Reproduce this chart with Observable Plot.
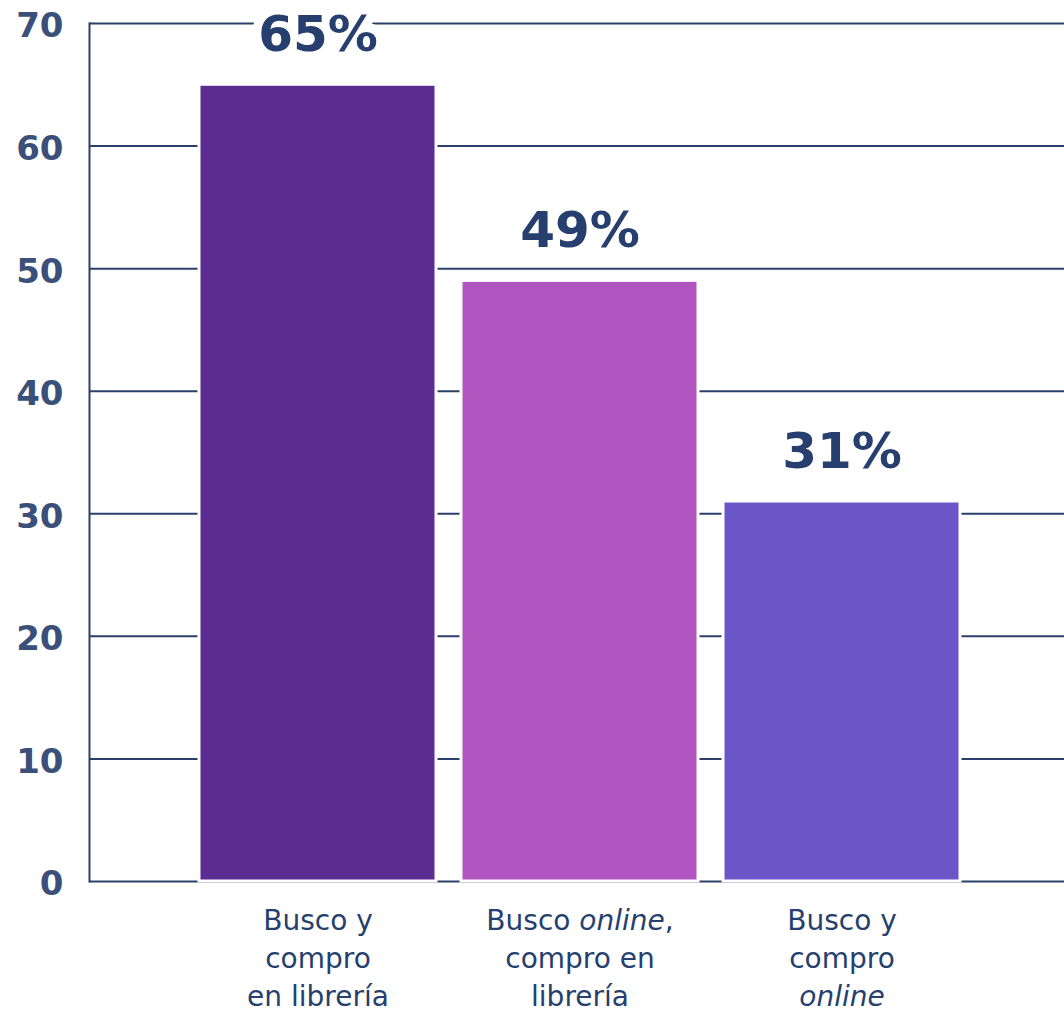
<!DOCTYPE html>
<html>
<head>
<meta charset="utf-8">
<script src="https://cdn.jsdelivr.net/npm/d3@7"></script>
<script src="https://cdn.jsdelivr.net/npm/@observablehq/plot@0.6"></script>
<style>
  html, body { margin: 0; padding: 0; background: #fff; }
  #chart svg { display: block; }
</style>
</head>
<body>
<div id="chart"></div>
<script>
const categories = [
  "Busco y\ncompro\nen librería",
  "Busco online,\ncompro en\nlibrería",
  "Busco y\ncompro\nonline"
];
const values = [65, 49, 31];
const barColors = ["#5c2d91", "#b054c0", "#6a56c6"];
const yTicks = [0, 10, 20, 30, 40, 50, 60, 70];

const data = categories.map((c, i) => ({cat: c, value: values[i]}));
const navy = "#263f6e";

const chart = Plot.plot({
  width: 1064,
  height: 1012,
  marginLeft: 89,
  marginRight: 0,
  marginTop: 23,
  marginBottom: 131,
  style: {fontFamily: "'DejaVu Sans', sans-serif", background: "white"},
  x: {domain: categories, paddingInner: 0.095, paddingOuter: 0.408, align: 0.514, label: null},
  y: {domain: [0, 70], label: null},
  color: {domain: categories, range: barColors},
  marks: [
    Plot.ruleY(yTicks, {stroke: "#2b3f6b", strokeWidth: 2}),
    Plot.frame({anchor: "left", stroke: "#2b3f6b", strokeWidth: 2}),
    Plot.barY(data, {x: "cat", y: "value", fill: "cat", stroke: "white", strokeWidth: 3}),
    Plot.text(data, {
      x: "cat", y: "value", text: d => d.value + "%",
      lineAnchor: "bottom", dy: -34,
      fill: navy, stroke: "white", strokeWidth: 18, paintOrder: "stroke",
      fontSize: 50, fontWeight: "bold"
    }),
    Plot.axisY({
      ticks: yTicks, tickSize: 0, tickPadding: 26,
      fontSize: 34, fontWeight: "bold", fill: "#3a4f7a", dy: 3
    }),
    Plot.axisX({
      tickSize: 0, tickPadding: 21, lineHeight: 1.37,
      fontSize: 28, fontFamily: "'DejaVu Sans', sans-serif", fill: navy
    })
  ]
});

document.getElementById("chart").appendChild(chart);

// italicize the word "online" in the x tick labels
const svgNS = "http://www.w3.org/2000/svg";
chart.querySelectorAll("g[aria-label='x-axis tick label'] tspan, g[aria-label='x-axis tick label'] text").forEach(el => {
  if (el.children.length) return;
  const t = el.textContent;
  if (!t.includes("online")) return;
  const parts = t.split(/(online)/);
  el.textContent = "";
  parts.forEach(p => {
    if (!p) return;
    const s = document.createElementNS(svgNS, "tspan");
    s.textContent = p;
    if (p === "online") s.setAttribute("font-style", "italic");
    el.appendChild(s);
  });
});
</script>
</body>
</html>
